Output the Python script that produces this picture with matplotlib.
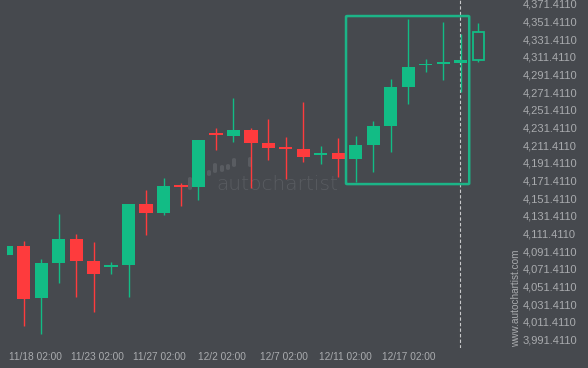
import matplotlib
matplotlib.use("Agg")
import matplotlib.pyplot as plt
from matplotlib.patches import Rectangle, FancyBboxPatch

# ---- data ----
opens  = [4086.9, 4097.1, 4038.5, 4077.8, 4105.0, 4080.1, 4074.3, 4075.6, 4144.7, 4134.5,
          4165.1, 4164.3, 4224.3, 4222.0, 4228.5, 4213.8, 4208.1, 4206.6, 4201.3, 4202.4,
          4195.6, 4211.5, 4233.0, 4277.2, 4302.4, 4304.1, 4304.4, 4308.1]
highs  = [4097.1, 4102.8, 4082.4, 4133.3, 4110.7, 4101.6, 4079.0, 4144.7, 4160.5, 4174.1,
          4168.5, 4217.2, 4230.4, 4264.4, 4230.4, 4241.3, 4220.2, 4259.9, 4210.4, 4219.1,
          4221.7, 4238.7, 4286.3, 4354.2, 4308.9, 4350.8, 4337.2, 4349.4]
lows   = [4086.9, 4006.8, 3997.7, 4055.5, 4039.0, 4022.7, 4065.7, 4039.7, 4109.9, 4132.5,
          4142.7, 4148.9, 4205.5, 4215.2, 4163.1, 4194.8, 4173.0, 4192.2, 4190.3, 4175.2,
          4169.9, 4181.3, 4203.9, 4257.6, 4294.5, 4285.5, 4271.5, 4305.9]
closes = [4097.1, 4037.4, 4077.8, 4105.0, 4080.1, 4065.7, 4075.3, 4144.7, 4134.5, 4165.1,
          4164.6, 4217.2, 4223.7, 4228.5, 4214.1, 4208.4, 4207.5, 4198.2, 4201.9, 4195.6,
          4211.5, 4233.0, 4277.2, 4299.9, 4303.0, 4304.7, 4307.8, 4339.2]

x_tick_pos = [1.66, 5.22, 8.76, 12.33, 15.89, 19.41, 22.99]
x_tick_labels = ["11/18 02:00", "11/23 02:00", "11/27 02:00", "12/2 02:00",
                 "12/7 02:00", "12/11 02:00", "12/17 02:00"]
y_ticks = [3991.411, 4011.411, 4031.411, 4051.411, 4071.411, 4091.411, 4111.411,
           4131.411, 4151.411, 4171.411, 4191.411, 4211.411, 4231.411, 4251.411,
           4271.411, 4291.411, 4311.411, 4331.411, 4351.411, 4371.411]

pattern_x = [19.43, 26.47]
pattern_y = [4167.3, 4357.6]
current_x = 25.96

# ---- style ----
BG = "#46494e"
GREEN = "#12bc85"
RED = "#fe3b3d"
TXT = "#a9abae"

fig = plt.figure(figsize=(5.88, 3.68), dpi=100, facecolor=BG)
ax = fig.add_axes([7/588, 20/368, 508/588, 348/368], facecolor=BG)
ax.set_xlim(0.057, 29.086)
ax.set_ylim(3981.65, 4375.76)

n = len(opens)
w = 0.743
for i in range(n):
    o, h, l, c = opens[i], highs[i], lows[i], closes[i]
    col = GREEN if c >= o else RED
    ax.vlines(i, l, h, color=col, linewidth=1.0, zorder=3)
    bot = min(o, c)
    ht = abs(c - o)
    if ht < 2.2:
        mid = (o + c) / 2
        bot, ht = mid - 1.1, 2.2
    if i == n - 1:
        ax.add_patch(Rectangle((i - w/2 + 0.04, bot), w - 0.08, ht, facecolor=BG,
                               edgecolor=col, linewidth=1.3, zorder=4))
    else:
        ax.add_patch(Rectangle((i - w/2, bot), w, ht, facecolor=col,
                               edgecolor="none", zorder=4))

# pattern box
ax.add_patch(FancyBboxPatch((pattern_x[0], pattern_y[0]), pattern_x[1] - pattern_x[0],
                            pattern_y[1] - pattern_y[0],
                            boxstyle="round,pad=0,rounding_size=0.08",
                            facecolor="none", edgecolor="#1cb487", linewidth=1.8,
                            zorder=5, mutation_aspect=10))

# current time marker
ax.axvline(current_x, color="#c9cacc", linewidth=0.8, linestyle=(0, (3, 2)), zorder=2)

# watermark (drawn inside the axes, below the candles)
wm = "#595c61"
for (xc, yt, yb) in [(190, 177, 190), (209, 170, 176), (215, 163, 173),
                     (222, 165, 172), (228, 164, 170), (234, 158, 167), (250, 157, 167)]:
    ax.add_patch(FancyBboxPatch((xc/588 - 2/588, 1 - yb/368), 4/588, (yb - yt)/368,
                                boxstyle="round,pad=0,rounding_size=0.004",
                                transform=fig.transFigure, facecolor=wm,
                                edgecolor="none", zorder=1))
ax.text(277/588, 1 - 185/368, "autochartist", color=wm, fontsize=14.5,
        family="DejaVu Sans", fontweight="light", ha="center", va="center", zorder=1,
        transform=fig.transFigure)

# axes styling
for s in ax.spines.values():
    s.set_visible(False)
ax.yaxis.tick_right()
ax.set_yticks(y_ticks)
ax.set_yticklabels([f"{v:,.4f}" for v in y_ticks])
ax.set_xticks(x_tick_pos)
ax.set_xticklabels(x_tick_labels)
ax.tick_params(axis="y", length=0, pad=5.3, labelsize=8.0, labelcolor=TXT)
ax.tick_params(axis="x", length=0, pad=3.0, labelsize=7.3, labelcolor=TXT)
for lab in ax.get_xticklabels() + ax.get_yticklabels():
    lab.set_family("Liberation Sans")

fig.text(516/588, 1 - 298/368, "www.autochartist.com", rotation=90, color=TXT,
         fontsize=7.2, family="Liberation Sans", ha="center", va="center")

fig.savefig("out.png", dpi=100, facecolor=BG)
